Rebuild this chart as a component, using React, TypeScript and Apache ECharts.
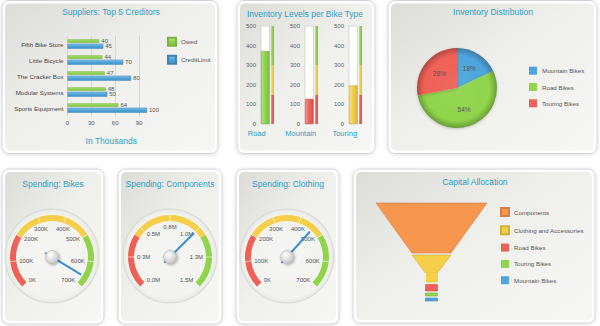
import React, { useEffect, useRef } from 'react';
import * as echarts from 'echarts';

const FONT = '"Liberation Sans", Arial, Helvetica, sans-serif';
const TEAL = '#2b9fc4';
const TXT = '#555555';
const RED = '#ef6157';
const YEL = '#f5cf48';
const GRN = '#8fd44b';
const BLU = '#4ea5db';
const ORG = '#f7964f';

// Panel 1: Suppliers
const creditors = ['Fifth Bike Store', 'Little Bicycle', 'The Cracker Box', 'Modular Systems', 'Sports Equipment'];
const owed = [40, 44, 47, 48, 64];
const creditLimit = [45, 70, 80, 50, 100];

// Panel 2: Inventory levels
const bikeTypes = ['Road', 'Mountain', 'Touring'];
const inventoryLevels = [372, 128, 197];
const inventoryBands = [150, 300, 500];

// Panel 3: Inventory distribution
const distributionNames = ['Mountain Bikes', 'Road Bikes', 'Touring Bikes'];
const distributionValues = [18, 54, 28];

// Gauges
const spendingTitles = ['Spending: Bikes', 'Spending: Components', 'Spending: Clothing'];
const spendingValues = [664, 1.0, 459];
const spendingMax = [700, 1.5, 700];
const spendingSplits = [7, 6, 7];
const spendingUnits = ['K', 'M', 'K'];

// Funnel
const capitalNames = ['Components', 'Clothing and Accessories', 'Road Bikes', 'Touring Bikes', 'Mountain Bikes'];
const capitalValues = [100, 31, 5, 4, 4];

function shade(hex: string, f: number) {
  const n = parseInt(hex.slice(1), 16);
  let r = (n >> 16) & 255, g = (n >> 8) & 255, b = n & 255;
  const t = f < 0 ? 0 : 255, p = Math.abs(f);
  r = Math.round((t - r) * p + r);
  g = Math.round((t - g) * p + g);
  b = Math.round((t - b) * p + b);
  return `rgb(${r},${g},${b})`;
}
function barFill(c: string, horizontal: boolean) {
  return new echarts.graphic.LinearGradient(0, 0, horizontal ? 0 : 1, horizontal ? 1 : 0, [
    { offset: 0, color: shade(c, 0.35) },
    { offset: 0.45, color: c },
    { offset: 1, color: shade(c, -0.1) },
  ]);
}

export default function App() {
  const ref = useRef<HTMLDivElement>(null);
  useEffect(() => {
    if (!ref.current) return;
    const chart = echarts.init(ref.current, null, { renderer: 'svg' });

    // panel frames (layout)
    const panels = [
      [2, 0.5, 216, 153],
      [237, 0.5, 138, 153],
      [388, 0.5, 209, 153],
      [2, 169, 102, 155],
      [118, 169, 104, 155],
      [236, 169, 103, 155],
      [353, 169, 242, 154],
    ];
    const gaugeCenters = [[52, 257], [170, 257], [287, 257]];
    const els: any[] = [];
    panels.forEach(([x, y, w, h]) => {
      els.push({
        type: 'rect', z: -10, silent: true,
        shape: { x, y, width: w, height: h, r: 7 },
        style: { fill: '#ffffff', stroke: '#d4d4d4', lineWidth: 1, shadowBlur: 4, shadowColor: 'rgba(0,0,0,0.12)', shadowOffsetY: 1 },
      });
      els.push({
        type: 'rect', z: -9, silent: true,
        shape: { x: x + 3, y: y + 3, width: w - 6, height: h - 6, r: 5 },
        style: {
          fill: new echarts.graphic.LinearGradient(0, 0, 1, 1, [
            { offset: 0, color: '#dcdcd8' },
            { offset: 0.45, color: '#efefec' },
            { offset: 1, color: '#f7f7f5' },
          ]),
        },
      });
    });
    gaugeCenters.forEach(([cx, cy]) => {
      els.push({
        type: 'circle', z: -8, silent: true,
        shape: { cx, cy: cy - 1, r: 47 },
        style: {
          fill: new echarts.graphic.RadialGradient(0.5, 0.5, 0.5, [
            { offset: 0, color: '#f6f6f4' },
            { offset: 0.9, color: '#f2f2ef' },
            { offset: 1, color: '#e8e8e5' },
          ]),
          stroke: '#dadad7', lineWidth: 1.2,
        },
      });
    });

    const titleSpecs: [string, number, number][] = [
      ['Suppliers: Top 5 Creditors', 111, 12],
      ['Inventory Levels per Bike Type', 305, 13.5],
      ['Inventory Distribution', 493, 12],
      [spendingTitles[0], 53, 183.5],
      [spendingTitles[1], 170, 184],
      [spendingTitles[2], 288, 184],
      ['Capital Allocation', 475, 182],
    ];
    const titles = titleSpecs.map(([text, x, y]) => ({
      text, left: x, top: y, textAlign: 'center', textVerticalAlign: 'middle', padding: 0,
      textStyle: { color: TEAL, fontSize: 8.5, fontWeight: 'normal', fontFamily: FONT },
    }));

    const grids: any[] = [{ left: 67.5, top: 36, width: 79.5, height: 80 }];
    const xAxes: any[] = [{
      type: 'value', gridIndex: 0, min: 0, max: 100, interval: 30,
      axisLabel: { fontSize: 6, color: TXT, margin: 4, showMaxLabel: false },
      splitLine: { show: true, showMaxLine: false, lineStyle: { color: '#d6d6d6' } },
      axisLine: { show: false }, axisTick: { show: false },
      name: 'In Thousands', nameLocation: 'middle', nameGap: 20,
      nameTextStyle: { color: TEAL, fontSize: 8.5, fontFamily: FONT, padding: [0, 0, 0, 8] },
    }];
    const yAxes: any[] = [{
      type: 'category', gridIndex: 0, data: creditors, inverse: true,
      axisLabel: { fontSize: 6.2, color: '#444', margin: 4 },
      axisTick: { show: false }, axisLine: { show: true, lineStyle: { color: '#d6d6d6' } },
    }];
    const series: any[] = [
      {
        type: 'bar', name: 'Owed', xAxisIndex: 0, yAxisIndex: 0, data: owed, barWidth: 3.5, barGap: '25%',
        itemStyle: { color: barFill(GRN, true), borderColor: shade(GRN, -0.15), borderWidth: 0.5 },
        label: { show: true, position: 'right', distance: 2, fontSize: 6, color: TXT },
      },
      {
        type: 'bar', name: 'CreditLimit', xAxisIndex: 0, yAxisIndex: 0, data: creditLimit, barWidth: 5,
        itemStyle: { color: barFill(BLU, true), borderColor: shade(BLU, -0.2), borderWidth: 0.5 },
        label: { show: true, position: 'right', distance: 2, fontSize: 6, color: TXT },
      },
    ];

    // Panel 2: linear gauges
    const colLeft = [261, 305, 349];
    const bandColors = [RED, YEL, GRN];
    const bandSizes = inventoryBands.map((v, i) => v - (i ? inventoryBands[i - 1] : 0));
    bikeTypes.forEach((t, i) => {
      const gCol = grids.length;
      grids.push({ left: colLeft[i], top: 26, width: 8.5, height: 98 });
      const gRange = grids.length;
      grids.push({ left: colLeft[i] + 10, top: 26, width: 3, height: 98 });
      xAxes.push({
        type: 'category', gridIndex: gCol, data: [t],
        axisLine: { show: false }, axisTick: { show: false },
        axisLabel: { color: TEAL, fontSize: 7.5, margin: 5, padding: [0, 17, 0, 0] },
      });
      yAxes.push({
        type: 'value', gridIndex: gCol, min: 0, max: 500, interval: 100,
        axisLabel: { fontSize: 6, color: '#666', margin: 5 },
        splitLine: { show: false }, axisLine: { show: false }, axisTick: { show: false },
      });
      xAxes.push({ type: 'category', gridIndex: gRange, data: ['range'], show: false });
      yAxes.push({ type: 'value', gridIndex: gRange, min: 0, max: 500, show: false });
      const lvl = inventoryLevels[i];
      const c = lvl >= inventoryBands[1] ? GRN : lvl >= inventoryBands[0] ? YEL : RED;
      series.push({
        type: 'bar', xAxisIndex: gCol, yAxisIndex: gCol, data: [lvl], barWidth: '100%',
        showBackground: true, backgroundStyle: { color: '#ffffff', borderColor: '#cfcfcf', borderWidth: 0.8 },
        itemStyle: { color: barFill(c, false), borderColor: shade(c, -0.2), borderWidth: 0.6 },
      });
      bandSizes.forEach((s, j) => {
        series.push({
          type: 'bar', xAxisIndex: gRange, yAxisIndex: gRange, stack: 'range' + i, data: [s], barWidth: '100%',
          itemStyle: { color: barFill(bandColors[j], false) },
        });
      });
    });

    // Panel 3: pie
    const pieColors = [BLU, GRN, RED];
    series.push({
      type: 'pie', center: [457, 88], radius: 40, startAngle: 90,
      data: distributionNames.map((n, i) => ({
        name: n, value: distributionValues[i],
        itemStyle: {
          color: new echarts.graphic.RadialGradient(457, 88, 40, [
            { offset: 0, color: shade(pieColors[i], 0.05) },
            { offset: 0.82, color: pieColors[i] },
            { offset: 1, color: shade(pieColors[i], -0.25) },
          ], true),
        },
      })),
      itemStyle: { shadowBlur: 3, shadowColor: 'rgba(0,0,0,0.2)', shadowOffsetY: 1 },
      label: { show: true, position: 'inside', formatter: '{d}%', fontSize: 6.5, color: TXT },
      labelLine: { show: false },
    });

    // Gauges
    spendingValues.forEach((v, i) => {
      const unit = spendingUnits[i];
      series.push({
        type: 'gauge', center: gaugeCenters[i], radius: 42, startAngle: 225, endAngle: -45,
        min: 0, max: spendingMax[i], splitNumber: spendingSplits[i],
        axisLine: { lineStyle: { width: 6, color: [[2 / 7, RED], [5 / 7, YEL], [1, GRN]] } },
        splitLine: { show: true, distance: -6, length: 6, lineStyle: { color: 'rgba(255,255,255,0.6)', width: 1 } },
        axisTick: { show: false },
        axisLabel: {
          distance: 9, fontSize: 6, color: TXT,
          formatter: (x: number) => unit === 'M' ? x.toFixed(1) + 'M' : Math.round(x) + 'K',
        },
        pointer: { icon: 'rect', width: 2, length: 42, offsetCenter: [0, 8], itemStyle: { color: '#3a8fcb' } },
        anchor: {
          show: true, showAbove: true, size: 13,
          itemStyle: {
            color: new echarts.graphic.RadialGradient(0.4, 0.35, 0.7, [
              { offset: 0, color: '#ffffff' }, { offset: 1, color: '#c4c4c4' },
            ]),
            borderColor: '#b0b0b0', borderWidth: 0.5,
            shadowBlur: 3, shadowColor: 'rgba(0,0,0,0.35)', shadowOffsetX: 1, shadowOffsetY: 1,
          },
        },
        title: { show: false }, detail: { show: false },
        data: [{ value: v, name: spendingTitles[i] }],
      });
    });

    // Funnel
    const funnelColors = [ORG, YEL, RED, GRN, BLU];
    const funnelHeights = [50, 18, 6.5, 3, 3];
    const funnelData: any[] = [];
    capitalNames.forEach((n, i) => {
      funnelData.push({
        name: n, value: capitalValues[i],
        itemStyle: { color: funnelColors[i], borderColor: shade(funnelColors[i], -0.15), borderWidth: 0.6, height: funnelHeights[i] },
      });
      if (i === 1) {
        funnelData.push({ name: 'neck', value: 5, itemStyle: { color: 'rgba(0,0,0,0)', borderWidth: 0, height: 7.5 } });
      }
    });
    series.push({
      type: 'funnel', left: 376, top: 203, width: 111, height: 100, min: 5, max: 100,
      minSize: '10.8%', maxSize: '100%', sort: 'none', gap: 2,
      label: { show: false }, labelLine: { show: false }, silent: true,
      data: funnelData,
    });
    series.push({
      type: 'funnel', left: 426, top: 272.5, width: 12, height: 10, min: 0, max: 5,
      minSize: '100%', maxSize: '100%', sort: 'none', gap: 0, silent: true,
      label: { show: false }, labelLine: { show: false },
      data: [{ name: 'neck2', value: 5, itemStyle: { color: YEL, borderWidth: 0 } }],
    });

    const legendText = { fontSize: 6.2, color: TXT };
    const legends = [
      {
        data: ['Owed', 'CreditLimit'], left: 167, top: 36.7, orient: 'vertical',
        itemWidth: 8, itemHeight: 8, itemGap: 8, icon: 'rect', textStyle: legendText, padding: 0,
      },
      {
        data: distributionNames.map((n, i) => ({ name: n, itemStyle: { color: pieColors[i] } })),
        left: 529, top: 66.7, orient: 'vertical',
        itemWidth: 8, itemHeight: 8, itemGap: 8.3, icon: 'rect', textStyle: legendText, padding: 0,
      },
      {
        data: capitalNames.map((n, i) => ({ name: n, itemStyle: { color: funnelColors[i] } })),
        left: 500, top: 207, orient: 'vertical',
        itemWidth: 8, itemHeight: 8, itemGap: 8.3, icon: 'rect', textStyle: legendText, padding: 0,
      },
    ];

    chart.setOption({
      animation: false,
      textStyle: { fontFamily: FONT },
      graphic: { elements: els },
      title: titles,
      legend: legends,
      grid: grids,
      xAxis: xAxes,
      yAxis: yAxes,
      series,
    });
    return () => chart.dispose();
  }, []);
  return <div ref={ref} style={{ width: 600, height: 326, position: 'absolute', left: 0, top: 0 }} />;
}
